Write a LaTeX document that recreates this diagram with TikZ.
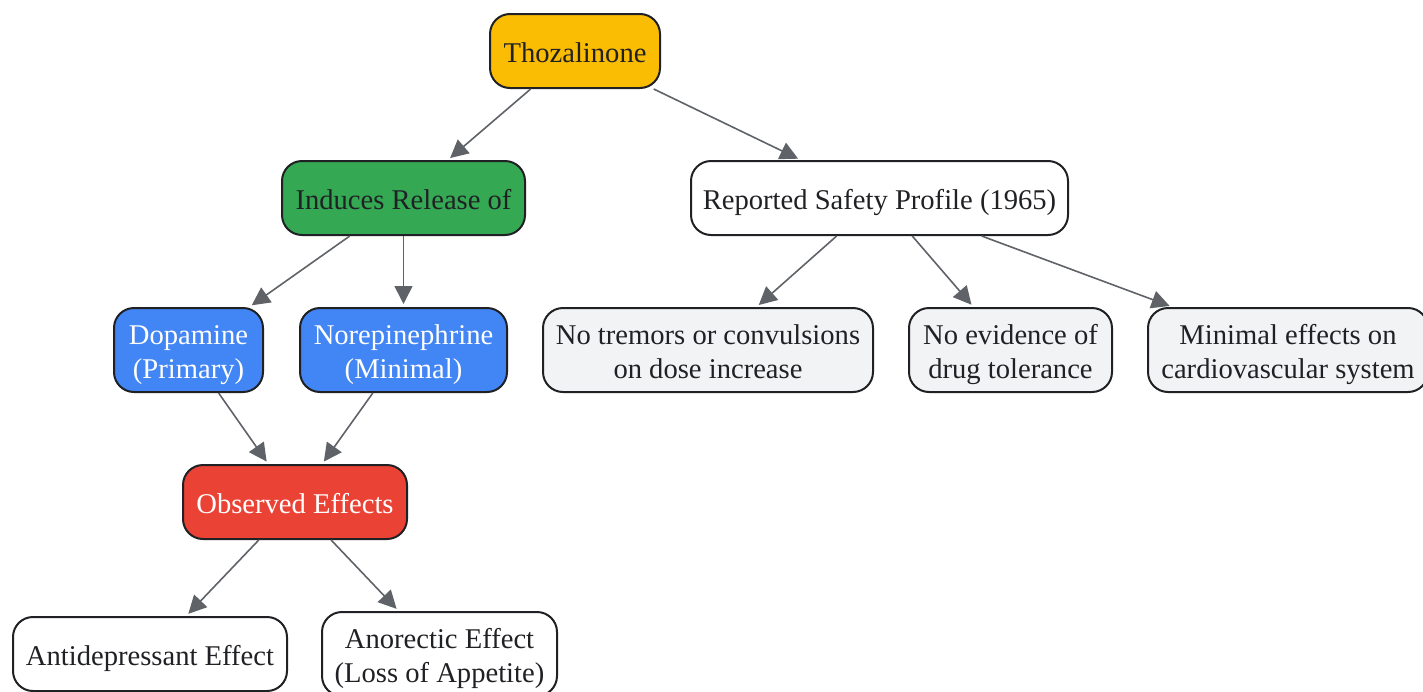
\documentclass[tikz,border=0pt]{standalone}
\usepackage{fontspec}
\setmainfont{Liberation Serif}
\usetikzlibrary{arrows.meta}
\definecolor{drugyellow}{HTML}{FBBC04}
\definecolor{releasegreen}{HTML}{34A853}
\definecolor{amineblue}{HTML}{4285F4}
\definecolor{effectred}{HTML}{EA4335}
\definecolor{safetygray}{HTML}{F1F3F4}
\definecolor{edgegray}{HTML}{5F6368}
\definecolor{inkdark}{HTML}{202124}
\begin{document}
\begin{tikzpicture}[x=0.5pt, y=-0.5pt,
    box/.style={draw=inkdark, line width=1pt, rounded corners=10pt, align=center,
        minimum height=37pt, inner sep=0pt, text=inkdark,
        text height=14pt, text depth=3pt,
        font=\fontsize{14.3}{17}\selectfont},
    tall/.style={minimum height=42pt, text height=31pt},
    link/.style={draw=edgegray, line width=0.8pt, shorten >=1.5pt,
        -{Triangle[length=9pt,width=9pt]}}]
    \useasboundingbox (0, 0) rectangle (1423, 691);
    % drug
    \node [box, fill=drugyellow, minimum width=85pt] (thoz) at (575, 51) {Thozalinone};
    % mechanism
    \node [box, fill=releasegreen, minimum width=121.5pt] (release) at (403.5, 198) {Induces Release of};
    \node [box, tall, fill=amineblue, text=white, minimum width=74.5pt] (dopa) at (188.5, 350) {Dopamine\\(Primary)};
    \node [box, tall, fill=amineblue, text=white, minimum width=103.5pt] (norepi) at (403.5, 350) {Norepinephrine\\(Minimal)};
    \node [box, fill=effectred, text=white, minimum width=112pt] (observed) at (295, 502) {Observed Effects};
    \node [box, fill=white, minimum width=137pt] (antidep) at (150, 654) {Antidepressant Effect};
    \node [box, tall, fill=white, minimum width=117.5pt] (anorex) at (439.5, 654) {Anorectic Effect\\(Loss of Appetite)};
    % safety
    \node [box, fill=white, minimum width=188.5pt] (safety) at (879.5, 198) {Reported Safety Profile (1965)};
    \node [box, tall, fill=safetygray, minimum width=165pt] (tremor) at (708, 350) {No tremors or convulsions\\on dose increase};
    \node [box, tall, fill=safetygray, minimum width=101.5pt] (toler) at (1010.5, 350) {No evidence of\\drug tolerance};
    \node [box, tall, fill=safetygray, minimum width=140pt] (cardio) at (1288, 350) {Minimal effects on\\cardiovascular system};
    % links
    \draw [link] (thoz) -- (release);
    \draw [link] (thoz) -- (safety);
    \draw [link] (release) -- (dopa);
    \draw [link] (release) -- (norepi);
    \draw [link] (dopa) -- (observed);
    \draw [link] (norepi) -- (observed);
    \draw [link] (observed) -- (antidep);
    \draw [link] (observed) -- (anorex);
    \draw [link] (safety) -- (tremor);
    \draw [link] (safety) -- (toler);
    \draw [link] (safety) -- (cardio);
\end{tikzpicture}
\end{document}
